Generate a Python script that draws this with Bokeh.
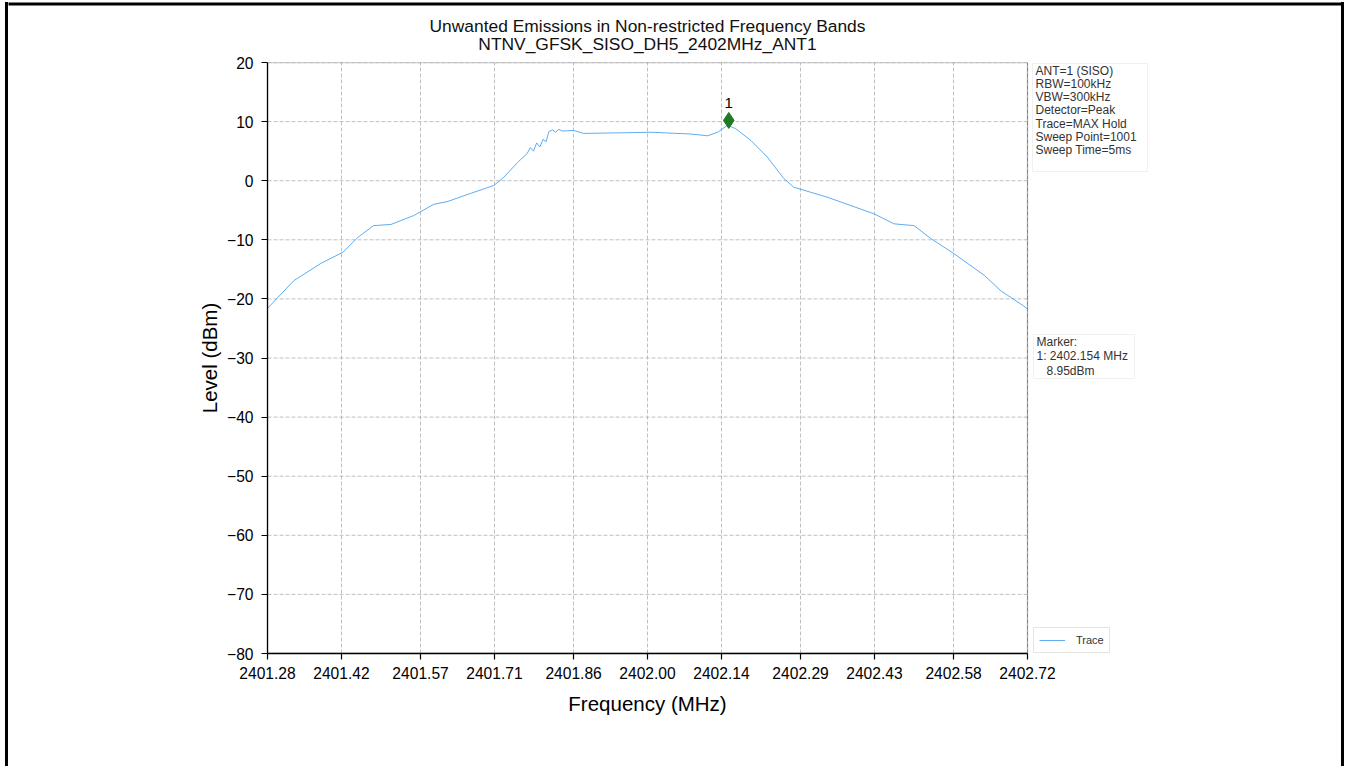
from bokeh.plotting import figure
from bokeh.layouts import column, row
from bokeh.models import (Range1d, FixedTicker, Label, Legend, LegendItem,
                          BoxAnnotation, Spacer)
from bokeh.embed import file_html
from bokeh.resources import INLINE

# ---- data ----
freq_mhz = [2401.280, 2401.330, 2401.381, 2401.423, 2401.451, 2401.481, 2401.514,
            2401.557, 2401.595, 2401.622, 2401.660, 2401.709, 2401.728, 2401.754,
            2401.772, 2401.778, 2401.784, 2401.790, 2401.796, 2401.802, 2401.808,
            2401.813, 2401.820, 2401.826, 2401.832, 2401.838, 2401.860, 2401.879,
            2401.950, 2402.006, 2402.082, 2402.114, 2402.133, 2402.152, 2402.167,
            2402.196, 2402.227, 2402.258, 2402.277, 2402.341, 2402.429, 2402.467,
            2402.505, 2402.537, 2402.580, 2402.638, 2402.669, 2402.711, 2402.720]
level_dbm = [-21.6, -16.9, -14.0, -12.1, -9.6, -7.6, -7.4,
             -5.9, -4.0, -3.5, -2.3, -0.8, 0.6, 3.1,
             4.6, 5.6, 5.0, 6.4, 5.7, 7.0, 6.6,
             8.3, 8.6, 8.2, 8.7, 8.4, 8.5, 8.0,
             8.1, 8.2, 7.9, 7.6, 8.2, 9.4, 8.8,
             6.8, 4.0, 0.4, -1.1, -2.8, -5.6, -7.3,
             -7.6, -9.8, -12.3, -16.0, -18.6, -21.1, -21.7]
marker_freq = [2402.154]
marker_level = [10.2]
x_ticks = [2401.28, 2401.42, 2401.57, 2401.71, 2401.86, 2402.00,
           2402.14, 2402.29, 2402.43, 2402.58, 2402.72]
y_ticks = [20, 10, 0, -10, -20, -30, -40, -50, -60, -70, -80]
title_lines = ["Unwanted Emissions in Non-restricted Frequency Bands",
               "NTNV_GFSK_SISO_DH5_2402MHz_ANT1"]
x_label = "Frequency (MHz)"
y_label = "Level (dBm)"
info_lines = ["ANT=1 (SISO)", "RBW=100kHz", "VBW=300kHz", "Detector=Peak",
              "Trace=MAX Hold", "Sweep Point=1001", "Sweep Time=5ms"]
marker_lines = ["Marker:", "1: 2402.154 MHz", "   8.95dBm"]
legend_label = "Trace"

FONT = "Liberation Sans"
TRACE_COLOR = "#4fa3ee"
X0, X1 = x_ticks[0], x_ticks[-1]
Y0, Y1 = y_ticks[-1], y_ticks[0]

# page geometry
IN_L, IN_R = 8, 1341                    # inner area between the picture's side bars
FL, FR, FT, FB = 267, 1341, 62, 653     # chart frame (frame extends right for side boxes)
TOP_H = 54
ROW_H = (FT - TOP_H) + (FB - FT) + 39
BOT_H = 766 - TOP_H - ROW_H
IN_W = IN_R - IN_L
PX_PER_MHZ = 760 / (X1 - X0)


def sx(px):
    return px - FL


def sy(py):
    return FB - py


def blank(width, height, xr, yr, fill="white"):
    f = figure(width=width, height=height, output_backend="svg", toolbar_location=None,
               x_axis_type=None, y_axis_type=None, x_range=xr, y_range=yr)
    f.min_border = 0
    f.outline_line_color = None
    f.background_fill_color = fill
    f.border_fill_color = fill
    f.grid.visible = False
    return f


# ---- top strip: top edge of the picture frame + two-line title (page px) ----
top = blank(IN_W, TOP_H, Range1d(IN_L, IN_R), Range1d(TOP_H, 0))
top.quad(left=IN_L - 1, right=IN_R + 1, top=2, bottom=5, fill_color="black", line_color=None)
for txt, yy in zip(title_lines, (25, 43)):
    top.add_layout(Label(x=647, y=yy, text=txt, text_align="center", text_baseline="middle",
                         text_font=FONT, text_font_size="17.4px", text_color="#111111"))

# ---- bottom strip: x-axis title (page px) ----
y_off = TOP_H + ROW_H
bot = blank(IN_W, BOT_H, Range1d(IN_L, IN_R), Range1d(766, y_off))
bot.add_layout(Label(x=647, y=703, text=x_label, text_align="center", text_baseline="middle",
                     text_font=FONT, text_font_size="20.5px", text_color="black"))

# ---- main chart ----
p = figure(width=IN_W, height=ROW_H, output_backend="svg", toolbar_location=None,
           x_range=Range1d(X0, X0 + (FR - FL) / PX_PER_MHZ), y_range=Range1d(Y0, Y1))
p.min_border_left = FL - IN_L
p.min_border_right = 0
p.min_border_top = FT - TOP_H
p.min_border_bottom = ROW_H - (FT - TOP_H) - (FB - FT)
p.background_fill_color = "white"
p.border_fill_color = "white"
p.outline_line_color = None

p.ygrid.visible = False
p.multi_line(xs=[[X0, X1] for _ in y_ticks], ys=[[t, t] for t in y_ticks],
             line_color="#b0b0b0", line_dash="4 2", line_width=0.8)
p.xgrid.ticker = FixedTicker(ticks=x_ticks)
p.xgrid.grid_line_color = "#b0b0b0"
p.xgrid.grid_line_dash = "4 2"
p.xgrid.grid_line_width = 0.8

p.add_layout(BoxAnnotation(left=X0, right=X1, bottom=Y0, top=Y1, fill_alpha=0,
                           line_color="black", line_width=1.3))

trace = p.line(freq_mhz, level_dbm, line_color=TRACE_COLOR, line_width=1, line_alpha=0.9)
p.scatter(marker_freq, marker_level, marker="diamond", size=16,
          fill_color="#217a21", line_color="#217a21")
p.add_layout(Label(x=marker_freq[0], y=marker_level[0], text="1", y_offset=17,
                   text_align="center", text_baseline="middle",
                   text_font=FONT, text_font_size="15px", text_color="black"))

for ax in (p.xaxis[0], p.yaxis[0]):
    ax.axis_line_color = "black"
    ax.axis_line_width = 1.3
    ax.major_tick_line_color = "black"
    ax.major_tick_line_width = 1.2
    ax.major_tick_in = 0
    ax.major_tick_out = 6
    ax.minor_tick_line_color = None
    ax.major_label_text_font = FONT
    ax.major_label_text_font_size = "15.6px"
    ax.major_label_text_color = "black"
    ax.axis_label_text_font = FONT
    ax.axis_label_text_font_size = "20.5px"
    ax.axis_label_text_font_style = "normal"
    ax.axis_label_text_color = "black"

p.xaxis.bounds = (X0, X1)
p.xaxis.ticker = FixedTicker(ticks=x_ticks)
p.xaxis.major_label_overrides = {t: f"{t:.2f}" for t in x_ticks}
p.xaxis.major_label_standoff = 7
p.yaxis.ticker = FixedTicker(ticks=y_ticks)
p.yaxis.major_label_overrides = {t: (str(t) if t >= 0 else "\u2212" + str(-t)) for t in y_ticks}
p.yaxis.axis_label = y_label
p.yaxis.major_label_standoff = 8
p.yaxis.axis_label_standoff = 3


def text_box(lines, left_px, top_px, right_px, bottom_px, first_y, step):
    p.add_layout(BoxAnnotation(left=sx(left_px), right=sx(right_px),
                               top=sy(top_px), bottom=sy(bottom_px),
                               left_units="screen", right_units="screen",
                               top_units="screen", bottom_units="screen",
                               fill_color="white", fill_alpha=1,
                               line_color="#cccccc", line_width=1))
    for i, txt in enumerate(lines):
        lead = len(txt) - len(txt.lstrip(" "))
        shown = "\u00a0" * lead + txt.lstrip(" ")
        p.add_layout(Label(x=sx(left_px + 3), y=sy(first_y + i * step),
                           x_units="screen", y_units="screen", text=shown,
                           text_align="left", text_baseline="middle", text_font=FONT,
                           text_font_size="12px", text_color="#333333"))


text_box(info_lines, 1032, 63, 1147, 171, 70, 13.3)
text_box(marker_lines, 1033, 334, 1134, 378, 341, 14.5)

legend = Legend(items=[LegendItem(label=legend_label, renderers=[trace])],
                location=(sx(1033), 0), orientation="vertical")
legend.label_text_font = FONT
legend.label_text_font_size = "11px"
legend.label_text_color = "#333333"
legend.border_line_color = "#cccccc"
legend.border_line_width = 1
legend.padding = 5
legend.margin = 0
legend.spacing = 0
legend.glyph_width = 26
legend.glyph_height = 14
legend.label_standoff = 11
legend.label_height = 14
p.add_layout(legend, "center")


def side_bar():
    return column(Spacer(width=3, height=2),
                  Spacer(width=3, height=764, styles={"background-color": "black"}))


layout = row(Spacer(width=5, height=766), side_bar(),
             column(top, row(p), bot),
             side_bar(), Spacer(width=4, height=766))
open("out.html", "w").write(file_html(layout, INLINE))
